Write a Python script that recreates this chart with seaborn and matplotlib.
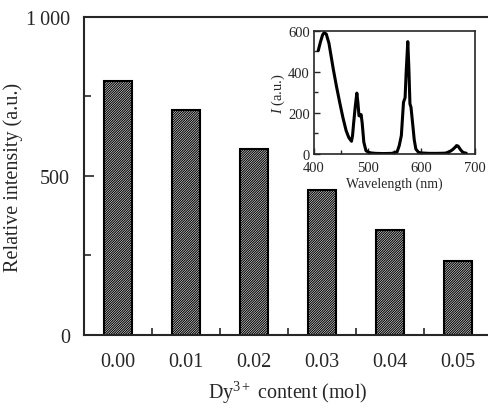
import numpy as np
import pandas as pd
import matplotlib
matplotlib.use("Agg")
import matplotlib.pyplot as plt
import seaborn as sns

# bar data: relative intensity vs Dy3+ content
dy_content = ["0.00", "0.01", "0.02", "0.03", "0.04", "0.05"]
intensity = [800, 708, 585, 456, 330, 233]

# inset spectrum
wavelength = [408, 412, 416, 419, 423, 428, 436, 442, 448, 454, 460, 465, 470, 472,
              474, 477, 480, 482, 484, 486, 488, 490, 493, 497, 502, 507, 515, 530,
              545, 555, 559, 563, 567, 570, 572, 575, 577, 579, 581, 584, 587, 590,
              595, 600, 615, 630, 645, 652, 658, 663, 666, 669, 673, 677, 681, 684]
spectrum = [504, 545, 580, 592, 585, 540, 415, 330, 252, 178, 114, 80, 62, 90,
            150, 230, 297, 250, 187, 185, 192, 150, 58, 16, 8, 5, 3, 2,
            3, 10, 40, 90, 252, 275, 400, 548, 420, 245, 228, 150, 70, 24,
            8, 5, 3, 3, 4, 10, 20, 32, 41, 38, 22, 10, 5, 4]

df = pd.DataFrame({"content": dy_content, "intensity": intensity})
spec = pd.DataFrame({"wl": wavelength, "I": spectrum})

sns.set_style("ticks")
plt.rcParams["font.family"] = ["Liberation Serif", "DejaVu Serif"]
plt.rcParams["mathtext.fontset"] = "custom"
plt.rcParams["mathtext.rm"] = "Liberation Serif"
plt.rcParams["mathtext.it"] = "Liberation Serif:italic"
plt.rcParams["hatch.linewidth"] = 0.8

fig = plt.figure(figsize=(4.89, 4.10), dpi=100)
ax = fig.add_axes([0.172, 0.1805, 0.834, 0.7756])

sns.barplot(data=df, x="content", y="intensity", ax=ax, width=0.41,
            color="white", edgecolor="black", linewidth=1.5,
            hatch="//////////////", saturation=1)
ax.set_xlim(-0.5, 5.5)
ax.set_ylim(0, 1000)
ax.set_yticks([0, 500, 1000])
ax.set_yticklabels(["0", "500", "1\u2009000"])
ax.set_yticks([250, 750], minor=True)
ax.set_xticks(np.arange(0.5, 5.5, 1.0), minor=True)
ax.tick_params(axis="both", which="major", direction="in", length=7, width=1.2,
               labelsize=14.5)
ax.tick_params(axis="both", which="minor", direction="in", length=5, width=1.2)
ax.tick_params(axis="y", pad=10)
ax.tick_params(axis="x", pad=12)
for s in ax.spines.values():
    s.set_linewidth(1.5)
ax.set_xlabel("Dy$^{3+}$ content (mol)", fontsize=14.5, labelpad=6)
ax.set_ylabel("Relative intensity (a.u.)", fontsize=14.5, labelpad=2)

# inset
ins = fig.add_axes([0.642, 0.622, 0.329, 0.300])
sns.lineplot(data=spec, x="wl", y="I", ax=ins, color="black", linewidth=2.2)
ins.set_xlim(400, 700)
ins.set_ylim(0, 600)
ins.set_xticks([400, 500, 600, 700])
ins.set_xticks([450, 550, 650], minor=True)
ins.set_yticks([0, 200, 400, 600])
ins.set_yticks([100, 300, 500], minor=True)
ins.tick_params(axis="both", which="major", direction="in", length=4, width=1,
                labelsize=10.5)
ins.tick_params(axis="x", pad=5)
ins.tick_params(axis="y", pad=3)
ins.tick_params(axis="both", which="minor", direction="in", length=3, width=1)
for s in ins.spines.values():
    s.set_linewidth(1.2)
ins.set_xlabel("Wavelength (nm)", fontsize=10, labelpad=2)
ins.set_ylabel("$I$ (a.u.)", fontsize=10.5, labelpad=1)

fig.savefig("out.png", dpi=100)
